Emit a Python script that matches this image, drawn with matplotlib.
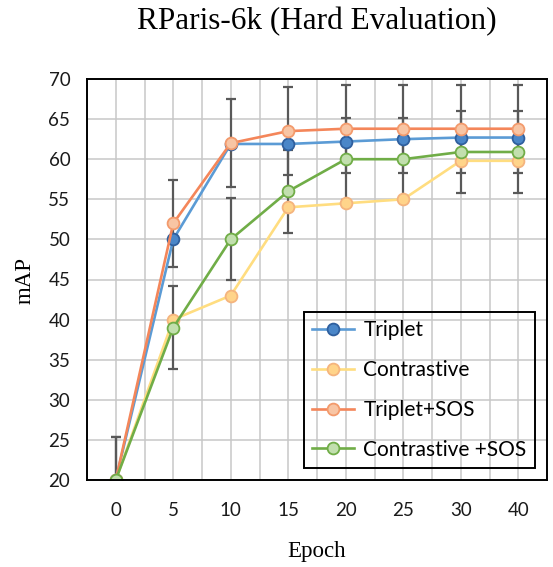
import matplotlib
matplotlib.use('Agg')
import matplotlib.pyplot as plt
from matplotlib.ticker import MultipleLocator

# Data
epochs = ['0', '5', '10', '15', '20', '25', '30', '40']
triplet = [20, 50, 61.9, 61.9, 62.2, 62.5, 62.7, 62.7]
contrastive = [20, 40, 43, 54, 54.5, 55, 59.8, 59.8]
triplet_sos = [20, 52, 62, 63.5, 63.8, 63.8, 63.8, 63.8]
contrastive_sos = [20, 39, 50, 56, 60, 60, 60.9, 60.9]
triplet_sos_err = [5.4, 5.45, 5.45, 5.45, 5.5, 5.5, 5.5, 5.5]
contrastive_sos_err = [5.3, 5.2, 5.1, 5.2, 5.1, 5.1, 5.1, 5.1]
y_ticks = [20, 25, 30, 35, 40, 45, 50, 55, 60, 65, 70]

sans = ['Lato', 'DejaVu Sans']
serif = ['Liberation Serif', 'DejaVu Serif']

fig = plt.figure(figsize=(5.53, 5.67), dpi=100)
ax = fig.add_axes([87 / 553, 1 - 480 / 567, 460 / 553, 401 / 567])

x = list(range(len(epochs)))

# error bars first so the markers sit on top
err_style = dict(fmt='none', ecolor='#595959', elinewidth=1.6, capsize=3.5, capthick=1.6, zorder=2)
ax.errorbar(x, triplet_sos, yerr=triplet_sos_err, **err_style)
ax.errorbar(x, contrastive_sos, yerr=contrastive_sos_err, **err_style)

series = [
    ('Triplet', triplet, '#5b9bd5', '#4a86c8', '#2f5f9e'),
    ('Contrastive', contrastive, '#ffdd80', '#ffd48a', '#f5b47e'),
    ('Triplet+SOS', triplet_sos, '#f4865a', '#f8c5a4', '#f39a6c'),
    ('Contrastive +SOS', contrastive_sos, '#70ad47', '#c2dfae', '#70ad47'),
]
for i, (name, vals, lc, fc, ec) in enumerate(series):
    ax.plot(x, vals, color=lc, lw=1.9, marker='o', ms=8.5, mfc=fc, mec=ec, mew=1.3,
            label=name, zorder=3 + i)

ax.set_xlim(-0.5, len(epochs) - 0.5)
ax.set_ylim(20, 70)
ax.set_xticks(x)
ax.set_xticklabels(epochs)
ax.xaxis.set_minor_locator(MultipleLocator(0.5))
ax.set_yticks(y_ticks)

ax.grid(True, which='both', axis='x', color='#c8c8c8', lw=1.1, zorder=0)
ax.grid(True, which='major', axis='y', color='#c8c8c8', lw=1.1, zorder=0)
ax.set_axisbelow(True)

ax.tick_params(which='both', length=0)
ax.tick_params(axis='y', pad=12)
ax.tick_params(axis='x', pad=16)
for lab in ax.get_xticklabels() + ax.get_yticklabels():
    lab.set_family(sans)
    lab.set_fontsize(13.5)
    lab.set_color('#1a1a1a')

for sp in ax.spines.values():
    sp.set_color('black')
    sp.set_linewidth(1.4)
    sp.set_zorder(10)

fig.text(317 / 553, 1 - 29 / 567, 'RParis-6k (Hard Evaluation)', family=serif,
         fontsize=22.5, ha='center', va='baseline')
fig.text(317 / 553, 1 - 557 / 567, 'Epoch', family=serif, fontsize=16.5,
         ha='center', va='baseline')
fig.text(25 / 553, 1 - 280 / 567, 'mAP', family=serif, fontsize=16.5,
         ha='center', va='center', rotation=90)

leg = ax.legend(loc='lower right', bbox_to_anchor=(535 / 553, 1 - 468 / 567),
                bbox_transform=fig.transFigure, borderaxespad=0,
                prop={'family': sans, 'size': 15}, handlelength=2.0,
                labelspacing=0.95, borderpad=0.4, handletextpad=0.45,
                fancybox=False, framealpha=1)
leg.get_frame().set_facecolor('none')
leg.get_frame().set_edgecolor('black')
leg.get_frame().set_linewidth(1.4)
leg.set_zorder(20)

fig.savefig('out.png', dpi=100)
